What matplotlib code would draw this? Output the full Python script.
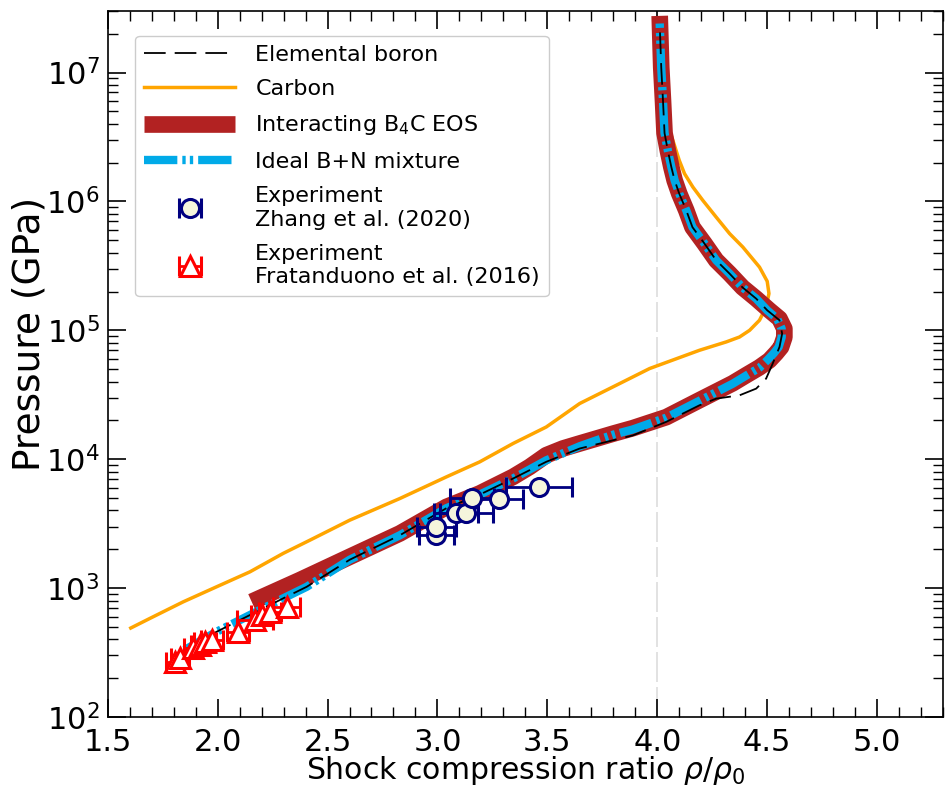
import numpy as np
import matplotlib.pyplot as plt
from matplotlib.ticker import MultipleLocator, LogLocator


# Elemental boron (black dashed)
boron_x = [1.85, 1.995, 2.147, 2.298, 2.405, 2.601, 2.829, 3.041, 3.192, 3.344, 3.495,
           3.647, 3.799, 3.889, 4.041, 4.192, 4.268, 4.374, 4.45, 4.495, 4.525, 4.556,
           4.568, 4.556, 4.50, 4.45, 4.388, 4.329, 4.268, 4.215, 4.16, 4.132, 4.10,
           4.079, 4.064, 4.048, 4.033, 4.026, 4.018, 4.011]
boron_p = [331, 458, 618, 832, 1023, 1660, 2570, 4170, 5310, 7080, 9550,
           12100, 14030, 15300, 19500, 26200, 29500, 31300, 35300, 42200, 55200, 74300,
           94200, 119700, 143000, 176000, 215000, 275000, 349000, 470000, 631000, 851000, 1.148e6,
           1.455e6, 1.845e6, 2.48e6, 3.39e6, 6.03e6, 1.096e7, 2.4e7]

# Carbon (orange)
carbon_x = [1.605, 1.692, 1.844, 1.995, 2.147, 2.298, 2.420, 2.601, 2.829, 3.041, 3.192,
            3.344, 3.495, 3.647, 3.829, 3.965, 4.192, 4.314, 4.374, 4.42, 4.465, 4.495,
            4.508, 4.50, 4.465, 4.389, 4.329, 4.268, 4.207, 4.162, 4.124, 4.10, 4.06,
            4.035, 4.02]
carbon_p = [490, 582, 783, 1023, 1337, 1858, 2355, 3365, 4955, 7295, 9528,
            13240, 17780, 27040, 38640, 50500, 70000, 81300, 88700, 100000, 119700, 151400,
            192800, 240000, 309000, 442600, 562300, 755100, 1.019e6, 1.291e6, 1.641e6, 2.08e6, 3.4e6,
            1.0e7, 2.4e7]

# Interacting B4C EOS (thick red)
b4c_x = [2.155, 2.374, 2.601, 2.829, 3.041, 3.192, 3.344, 3.419, 3.495, 3.571,
         3.647, 3.723, 3.80, 3.888, 4.041, 4.19, 4.343, 4.404, 4.465, 4.51, 4.54,
         4.563, 4.578, 4.578, 4.556, 4.51, 4.45, 4.388, 4.329, 4.268, 4.215, 4.16,
         4.132, 4.10, 4.079, 4.064, 4.048, 4.033, 4.026, 4.018, 4.011]
b4c_p = [783, 1153, 1750, 2655, 4266, 5420, 7295, 8710, 10740, 12110,
         13240, 14450, 15800, 17400, 21200, 28600, 38800, 44800, 51600, 58500, 66400,
         74100, 88300, 103000, 123000, 143000, 176000, 215000, 275000, 349000, 470000, 631000,
         851000, 1.148e6, 1.455e6, 1.845e6, 2.48e6, 3.39e6, 6.03e6, 1.096e7, 2.75e7]

# Ideal B+N mixture (blue dash-dot-dot)
mix_x = [1.85, 1.995, 2.147, 2.298, 2.405, 2.601, 2.829, 3.041, 3.192, 3.344, 3.495,
         3.647, 3.723, 3.80, 3.888, 4.041, 4.19, 4.343, 4.404, 4.465, 4.50, 4.53,
         4.552, 4.566, 4.566, 4.545, 4.50, 4.45, 4.388, 4.329, 4.268, 4.215, 4.16,
         4.132, 4.10, 4.079, 4.064, 4.048, 4.033, 4.026, 4.018, 4.011]
mix_p = [331, 458, 618, 832, 1023, 1660, 2570, 4170, 5310, 7080, 9800,
         12600, 14000, 15500, 17000, 21000, 28300, 38500, 44500, 51300, 58500, 66400,
         74100, 88300, 103000, 123000, 143000, 176000, 215000, 275000, 349000, 470000, 631000,
         851000, 1.148e6, 1.455e6, 1.845e6, 2.48e6, 3.39e6, 6.03e6, 1.096e7, 2.4e7]

# Zhang et al. (2020)
zhang_x = [2.995, 2.995, 3.086, 3.132, 3.155, 3.279, 3.462]
zhang_p = [2578, 2972, 3793, 3837, 5012, 4898, 6095]
zhang_xerr = [0.08, 0.09, 0.10, 0.12, 0.10, 0.11, 0.15]

# Fratanduono et al. (2016)
frat_x = [1.806, 1.829, 1.889, 1.920, 1.942, 1.973, 2.094, 2.170, 2.200, 2.238, 2.314]
frat_p = [268, 285, 341, 361, 381, 395, 458, 565, 618, 655, 716]
frat_xerr = [0.04, 0.04, 0.04, 0.04, 0.05, 0.05, 0.05, 0.08, 0.05, 0.05, 0.06]


fig = plt.figure(figsize=(9.48, 7.92), dpi=100)
ax = fig.add_axes([0.1136, 0.0947, 0.8812, 0.8914])

ax.axvline(4.0, color='#dddddd', lw=1.2, ls=(0, (18, 3)), zorder=0)

ax.plot(carbon_x, carbon_p, color='orange', lw=2.5, label='Carbon', zorder=1)
ax.plot(b4c_x, b4c_p, color='firebrick', lw=12, solid_capstyle='butt',
        solid_joinstyle='round', label=r'Interacting B$_4$C EOS', zorder=2)
ax.plot(mix_x, mix_p, color='#00aae8', lw=6, dash_capstyle='butt',
        ls=(0, (4.0, 0.6, 0.4, 0.5, 0.4, 0.6)), label='Ideal B+N mixture', zorder=3)
ax.plot(boron_x, boron_p, color='black', lw=1.3, ls=(0, (12, 5)),
        label='Elemental boron', zorder=4)

ax.errorbar(zhang_x, zhang_p, xerr=zhang_xerr, fmt='o', ms=13, mfc='beige',
            mec='navy', mew=2.2, ecolor='navy', elinewidth=2, capsize=7, capthick=2,
            label='Experiment\nZhang et al. (2020)', zorder=5)
ax.errorbar(frat_x, frat_p, xerr=frat_xerr, fmt='^', ms=14, mfc='white',
            mec='red', mew=2.2, ecolor='red', elinewidth=2, capsize=7, capthick=2,
            label='Experiment\nFratanduono et al. (2016)', zorder=6)

ax.set_yscale('log')
ax.set_xlim(1.5, 5.3)
ax.set_ylim(1e2, 3e7)
ax.xaxis.set_major_locator(MultipleLocator(0.5))
ax.xaxis.set_minor_locator(MultipleLocator(0.1))
ax.yaxis.set_major_locator(LogLocator(base=10, numticks=12))
ax.yaxis.set_minor_locator(LogLocator(base=10, subs=np.arange(2, 10), numticks=12))

ax.tick_params(which='both', direction='in', top=True, right=True, labelsize=22)
ax.tick_params(which='major', length=13, width=1.2)
ax.tick_params(axis='x', which='major', pad=8)
ax.tick_params(axis='y', which='major', pad=6)
ax.tick_params(which='minor', length=7, width=1.0)
for s in ax.spines.values():
    s.set_linewidth(1.2)

ax.set_xlabel(r'Shock compression ratio $\rho/\rho_0$', fontsize=21.5, labelpad=-2)
ax.set_ylabel('Pressure (GPa)', fontsize=27)
ax.yaxis.set_label_coords(-0.072, 0.542)

handles, labels = ax.get_legend_handles_labels()
order = [3, 0, 1, 2, 4, 5]
ax.legend([handles[i] for i in order], [labels[i] for i in order],
          loc='upper left', bbox_to_anchor=(0.033, 0.965), borderaxespad=0,
          fontsize=16, handlelength=4.1, handletextpad=0.9, labelspacing=0.65,
          framealpha=1)

fig.savefig('out.png', dpi=100)
